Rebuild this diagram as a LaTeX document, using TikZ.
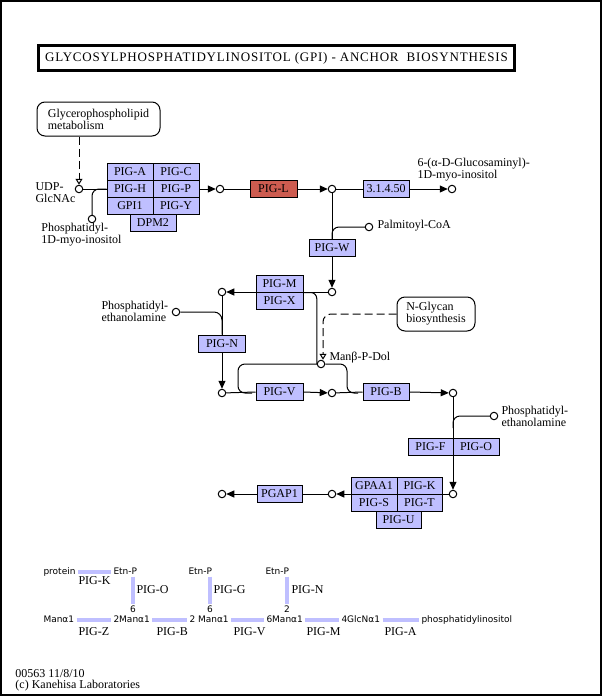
\documentclass[tikz,border=0pt]{standalone}
\usepackage{fontspec}
\setmainfont{Liberation Serif}
\newfontfamily\sansf{DejaVu Sans}
\usetikzlibrary{arrows.meta,calc}
\definecolor{enzfill}{HTML}{BFBFFF}
\definecolor{hilite}{RGB}{205,92,80}
\begin{document}
\begin{tikzpicture}[x=1pt,y=-1pt,line width=1pt,
  every node/.style={font=\fontsize{12}{12}\selectfont,inner sep=0pt},
  enz/.style={draw,fill=enzfill,minimum width=46pt,minimum height=17pt},
  cpd/.style={circle,draw,fill=white,minimum size=7.5pt},
  mapbox/.style={draw,fill=white,rounded corners=8pt,align=left},
  lbl/.style={align=left,anchor=west},
  arr/.style={-{Triangle[length=8pt,width=7pt]}},
  oarr/.style={-{Triangle[open,length=6pt,width=7pt,fill=white]}},
  dsh/.style={dash pattern=on 8pt off 4pt},
  gtxt/.style={font=\sansf\fontsize{9}{9}\selectfont,inner sep=2pt,anchor=base west},
  gdig/.style={font=\sansf\fontsize{9}{9}\selectfont,inner sep=1pt,anchor=center},
  gname/.style={anchor=west},
  glink/.style={draw=enzfill,line width=4pt}]
\useasboundingbox (0,0) rectangle (603,697);
\draw[line width=2pt] (1,1) rectangle (601,695);
% title
\node[draw,line width=3pt,minimum width=476pt,minimum height=25pt] (title) at (276.5,58)
  {\fontsize{13}{13}\selectfont\addfontfeature{LetterSpace=6}GLYCOSYLPHOSPHATIDYLINOSITOL (GPI) - ANCHOR\ \ BIOSYNTHESIS};
% map boxes
\node[mapbox,minimum width=123pt,minimum height=34pt] (glyc) at (98.5,119) {Glycerophospholipid\\metabolism};
\node[mapbox,minimum width=78pt,minimum height=34pt] (ngly) at (436,314) {N-Glycan\\biosynthesis};
% compounds
\node[cpd] (udp) at (79,189) {};
\node[cpd] (pi) at (92,219) {};
\node[cpd] (c1) at (220,189) {};
\node[cpd] (c2) at (332,189) {};
\node[cpd] (c3) at (452,189) {};
\node[cpd] (pal) at (369,227) {};
\node[cpd] (c4) at (332,292) {};
\node[cpd] (c5) at (222,292) {};
\node[cpd] (pe1) at (176,312) {};
\node[cpd] (c6) at (222,393) {};
\node[cpd] (c7) at (332,393) {};
\node[cpd] (c8) at (453,393) {};
\node[cpd] (mpd) at (321,364) {};
\node[cpd] (pe2) at (494,416) {};
\node[cpd] (c9) at (453,494) {};
\node[cpd] (c10) at (332,494) {};
\node[cpd] (c11) at (222,494) {};
% enzymes
\node[enz] (pigA) at (130,172) {PIG-A};
\node[enz] (pigC) at (176,172) {PIG-C};
\node[enz] (pigH) at (130,189) {PIG-H};
\node[enz] (pigP) at (176,189) {PIG-P};
\node[enz] (gpi1) at (130,206) {GPI1};
\node[enz] (pigY) at (176,206) {PIG-Y};
\node[enz] (dpm2) at (153,223) {DPM2};
\node[enz,fill=hilite,minimum width=47pt] (pigL) at (273.5,189) {PIG-L};
\node[enz] (e31) at (386,189) {3.1.4.50};
\node[enz] (pigW) at (332,248) {PIG-W};
\node[enz,minimum width=47pt] (pigM) at (279.5,283.5) {PIG-M};
\node[enz,minimum width=47pt] (pigX) at (279.5,300.5) {PIG-X};
\node[enz,minimum width=47pt] (pigN) at (222,343.5) {PIG-N};
\node[enz,minimum width=47pt] (pigV) at (279.5,392) {PIG-V};
\node[enz] (pigB) at (386,392) {PIG-B};
\node[enz,minimum width=45pt] (pigF) at (430.5,446.5) {PIG-F};
\node[enz] (pigO) at (476,446.5) {PIG-O};
\node[enz] (gpaa1) at (374,485.5) {GPAA1};
\node[enz,minimum width=45pt] (pigK) at (419.5,485.5) {PIG-K};
\node[enz] (pigS) at (374,502.5) {PIG-S};
\node[enz,minimum width=45pt] (pigT) at (419.5,502.5) {PIG-T};
\node[enz,minimum width=45pt] (pigU) at (398.5,519.5) {PIG-U};
\node[enz,minimum width=45pt] (pgap1) at (279.5,494) {PGAP1};
% labels
\node[lbl] (udpl) at (35,193) {UDP-\\GlcNAc};
\node[lbl] (pil) at (41,235) {Phosphatidyl-\\1D-myo-inositol};
\node[lbl] (c3l) at (417,170) {6-(α-D-Glucosaminyl)-\\1D-myo-inositol};
\node[lbl] (pall) at (377,226) {Palmitoyl-CoA};
\node[lbl] (pe1l) at (101,311) {Phosphatidyl-\\ethanolamine};
\node[lbl] (mpdl) at (329,358) {Manβ-P-Dol};
\node[lbl] (pe2l) at (501,416) {Phosphatidyl-\\ethanolamine};
% coordinates for free ends
\coordinate (lk1) at (238,364);
\coordinate (lk2) at (238,393);
\coordinate (lv) at (252,393);
\coordinate (rk1) at (347,364);
\coordinate (rk2) at (347,393);
\coordinate (rv) at (358,393);
\coordinate (pj) at (453,428);
% connectors
\draw[dsh,oarr] (glyc.south -| udp) -- (udp);
\draw (udp) -- (pigH.west);
\draw[rounded corners=7pt] (pi) |- (pigH.west);
\draw[arr] (pigP.east) -- (c1);
\draw (c1) -- (pigL.west);
\draw[arr] (pigL.east) -- (c2);
\draw (c2) -- (e31.west);
\draw[arr] (e31.east) -- (c3);
\draw (c2) -- (pigW.north);
\draw[rounded corners=7pt] (pigW.north) |- (pal);
\draw[arr] (pigW.south) -- (c4);
\draw[arr] (c4) -- (c5);
\draw (c5) -- (pigN.north);
\draw[rounded corners=8pt] (pe1) -| (pigN.north);
\draw[arr] (pigN.south) -- (c6);
\draw (c6) -- (pigV.west);
\draw[arr] (pigV.east) -- (c7);
\draw (c7) -- (pigB.west);
\draw[arr] (pigB.east) -- (c8);
\draw[rounded corners=6pt] (pigM.south east) -| (mpd.west);
\draw[dsh,rounded corners=8pt,oarr] (ngly.west) -| ([xshift=2pt]mpd.north);
\draw[rounded corners=7pt] (mpd.west) -- (lk1) -- (lk2) -- (lv);
\draw[rounded corners=7pt] (mpd.east) -- (rk1) -- (rk2) -- (rv);
\draw[arr] (c8) -- (c9);
\draw[rounded corners=7pt] (pj) |- (pe2);
\draw[arr] (c9) -- (c10);
\draw (c10) -- (pgap1.east);
\draw[arr] (pgap1.west) -- (c11);
% legend structure
\node[gtxt] (prot) at (41,574) {protein};
\node[gtxt] (e1) at (111,574) {Etn-P};
\node[gtxt] (e2) at (186,574) {Etn-P};
\node[gtxt] (e3) at (263,574) {Etn-P};
\node[gtxt] (m1) at (41,622) {Manα1};
\node[gtxt] (m2) at (111,622) {2Manα1};
\node[gtxt] (m3) at (187,622) {2 Manα1};
\node[gtxt] (m4) at (264,622) {6Manα1};
\node[gtxt] (m5) at (339,622) {4GlcNα1};
\node[gtxt] (m6) at (419,622) {phosphatidylinositol};
\node[gdig] (d1) at (133,609) {6};
\node[gdig] (d2) at (210,609) {6};
\node[gdig] (d3) at (287,609) {2};
\draw[glink] (prot.mid east) -- (e1.mid west);
\draw[glink] (m1.mid east) -- (m2.mid west);
\draw[glink] (m2.mid east) -- (m3.mid west);
\draw[glink] (m3.mid east) -- (m4.mid west);
\draw[glink] (m4.mid east) -- (m5.mid west);
\draw[glink] (m5.mid east) -- (m6.mid west);
\draw[glink] (d1.north |- e1.south) -- (d1.north);
\draw[glink] (d2.north |- e2.south) -- (d2.north);
\draw[glink] (d3.north |- e3.south) -- (d3.north);
\node[gname] (nK) at (78,581) {PIG-K};
\node[gname] (nO) at (136,590) {PIG-O};
\node[gname] (nG) at (213,590) {PIG-G};
\node[gname] (nN) at (291,590) {PIG-N};
\node[gname] (nZ) at (78,632) {PIG-Z};
\node[gname] (nB) at (156,632) {PIG-B};
\node[gname] (nV) at (233,632) {PIG-V};
\node[gname] (nM) at (306,632) {PIG-M};
\node[gname] (nA) at (384,632) {PIG-A};
% footer
\node[lbl,font=\fontsize{12}{11}\selectfont] (foot) at (15,680) {00563 11/8/10\\(c) Kanehisa Laboratories};
\end{tikzpicture}
\end{document}
